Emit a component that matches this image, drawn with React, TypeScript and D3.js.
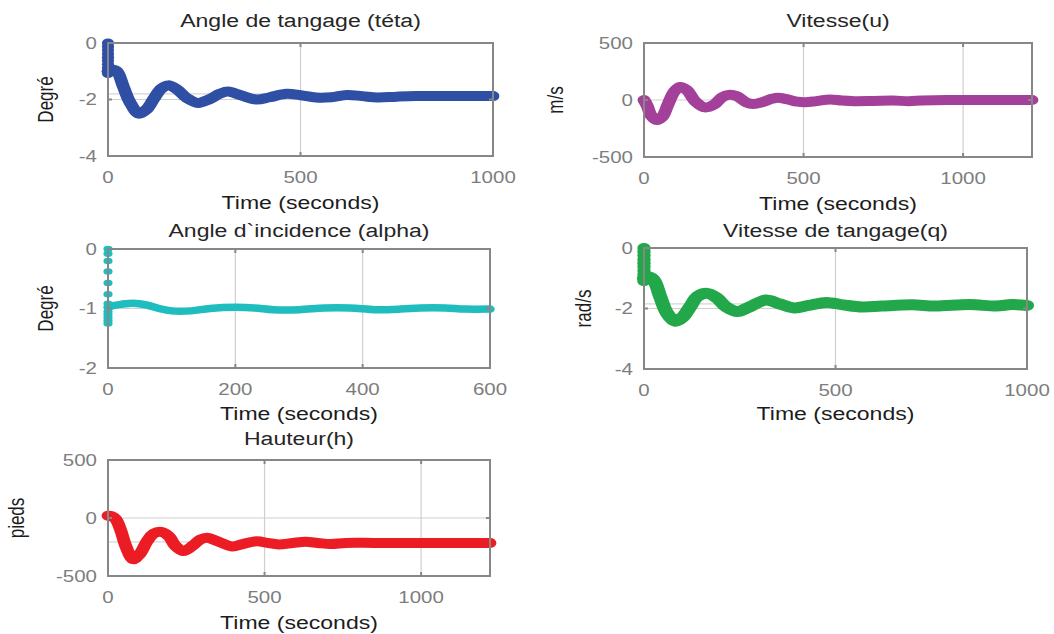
import React, { useEffect, useRef } from "react";
import * as d3 from "d3";

// pitch angle (teta), deg
const tetaStart = [0, -0.12, -0.25, -0.38, -0.5, -0.62, -0.75, -0.88, -1.0, -1.08];
const tetaT = [0, 10, 23, 40, 57, 80, 100, 120, 138, 156, 180, 205, 234, 262, 290, 312, 345, 386, 420, 464, 500, 540, 580, 620, 660, 700, 750, 800, 900, 1000];
const tetaV = [-1.0, -0.95, -1.0, -1.55, -2.1, -2.5, -2.35, -1.95, -1.62, -1.5, -1.65, -1.95, -2.12, -2.0, -1.8, -1.72, -1.85, -2.0, -1.92, -1.8, -1.85, -1.93, -1.92, -1.84, -1.88, -1.93, -1.9, -1.88, -1.88, -1.88];

// speed u, m/s
const uT = [0, 10, 22, 40, 58, 75, 95, 113, 135, 160, 191, 220, 245, 265, 290, 320, 342, 370, 400, 420, 450, 480, 505, 540, 583, 620, 660, 720, 780, 830, 870, 950, 1050, 1216];
const uV = [0, -50, -135, -175, -145, -40, 75, 115, 85, -10, -65, -40, 25, 45, 35, -20, -35, -20, 10, 20, 5, -15, -20, -10, 5, -5, -10, -8, -5, -10, -5, 0, 0, 0];

// angle of attack (alpha), deg
const alphaStart = [0, -0.08, -0.2, -0.38, -0.57, -0.76, -0.92, -0.98, -1.05, -1.1, -1.15, -1.2, -1.25];
const alphaT = [1, 8, 20, 40, 60, 80, 100, 130, 160, 200, 230, 260, 300, 340, 380, 420, 460, 490, 530, 560, 600];
const alphaV = [-0.97, -0.95, -0.93, -0.91, -0.94, -1.0, -1.04, -1.04, -1.0, -0.98, -0.99, -1.02, -1.02, -0.99, -0.99, -1.02, -1.01, -0.99, -0.99, -1.01, -1.01];

// pitch rate q, rad/s
const qStart = [0, -0.12, -0.25, -0.38, -0.5, -0.62, -0.75, -0.88, -1.0, -1.1];
const qT = [0, 10, 25, 42, 60, 82, 100, 120, 140, 165, 190, 215, 244, 275, 318, 355, 392, 430, 476, 520, 570, 620, 700, 760, 850, 920, 960, 1000];
const qV = [-1.0, -0.95, -1.05, -1.6, -2.15, -2.42, -2.3, -1.95, -1.6, -1.5, -1.65, -1.95, -2.1, -1.95, -1.72, -1.85, -1.98, -1.9, -1.8, -1.88, -1.95, -1.92, -1.88, -1.92, -1.87, -1.92, -1.87, -1.9];

// altitude h, pieds
const hT = [0, 12, 25, 40, 58, 80, 100, 125, 145, 170, 195, 215, 241, 270, 295, 317, 350, 396, 430, 476, 510, 545, 590, 631, 670, 711, 760, 850, 1000, 1220];
const hV = [20, 15, -10, -100, -250, -355, -315, -200, -135, -120, -160, -240, -285, -240, -185, -170, -200, -245, -225, -200, -215, -228, -215, -205, -215, -225, -215, -215, -215, -215];

const SX = 1.28; // the source image is stretched horizontally

const panels = [
  { title: "Angle de tangage (téta)", ylabel: "Degré", color: "#2f4fa4", t: tetaT, v: tetaV, start: tetaStart,
    x0: 108, x1: 493, y0: 43, y1: 156, xd: [0, 1000], xt: [0, 500, 1000], yd: [-4, 0], yt: [-4, -2, 0], ref: -1.8,
    titleY: 20, xlabY: 202, ylabX: 45, sw: 10 },
  { title: "Vitesse(u)", ylabel: "m/s", color: "#a3409a", t: uT, v: uV, start: [],
    x0: 644, x1: 1032, y0: 43, y1: 157, xd: [0, 1216], xt: [0, 500, 1000], yd: [-500, 500], yt: [-500, 0, 500], ref: null,
    titleY: 20, xlabY: 203, ylabX: 555, sw: 10 },
  { title: "Angle d`incidence (alpha)", ylabel: "Degré", color: "#1fbdbd", t: alphaT, v: alphaV, start: alphaStart,
    x0: 108, x1: 490, y0: 249, y1: 368, xd: [0, 600], xt: [0, 200, 400, 600], yd: [-2, 0], yt: [-2, -1, 0], ref: null,
    titleY: 230, xlabY: 413, ylabX: 45, sw: 7.5 },
  { title: "Vitesse de tangage(q)", ylabel: "rad/s", color: "#22a84a", t: qT, v: qV, start: qStart,
    x0: 644, x1: 1027, y0: 248, y1: 369, xd: [0, 1000], xt: [0, 500, 1000], yd: [-4, 0], yt: [-4, -2, 0], ref: -1.85,
    titleY: 230, xlabY: 413, ylabX: 583, sw: 11 },
  { title: "Hauteur(h)", ylabel: "pieds", color: "#ec1c24", t: hT, v: hV, start: [],
    x0: 108, x1: 490, y0: 460, y1: 576, xd: [0, 1220], xt: [0, 500, 1000], yd: [-500, 500], yt: [-500, 0, 500], ref: -205,
    titleY: 438, xlabY: 622, ylabX: 16, sw: 10 },
];

export default function App() {
  const svgRef = useRef<SVGSVGElement>(null);

  useEffect(() => {
    const svg = d3.select(svgRef.current);
    svg.selectAll("*").remove();
    const font = "'Liberation Sans', Arial, sans-serif";

    const text = (x, y, s, size, fill, rot = false, anchor = "middle") =>
      svg.append("text")
        .attr("transform", `translate(${x},${y}) scale(${SX},1)${rot ? " rotate(-90)" : ""}`)
        .attr("text-anchor", anchor)
        .attr("dominant-baseline", "central")
        .style("font-family", font)
        .style("font-size", `${size}px`)
        .style("fill", fill)
        .text(s);

    panels.forEach((p) => {
      const x = d3.scaleLinear().domain(p.xd).range([p.x0, p.x1]);
      const y = d3.scaleLinear().domain(p.yd).range([p.y1, p.y0]);
      const g = svg.append("g");

      g.append("rect").attr("x", p.x0).attr("y", p.y0).attr("width", p.x1 - p.x0).attr("height", p.y1 - p.y0).attr("fill", "#fff");

      // grid
      p.xt.forEach((t) => {
        g.append("line").attr("x1", x(t)).attr("x2", x(t)).attr("y1", p.y0).attr("y2", p.y1)
          .attr("stroke", "#cfcfcf").attr("stroke-width", 1.2);
      });
      p.yt.forEach((t) => {
        g.append("line").attr("x1", p.x0).attr("x2", p.x1).attr("y1", y(t)).attr("y2", y(t))
          .attr("stroke", "#cfcfcf").attr("stroke-width", 1.2);
      });
      if (p.ref !== null) {
        g.append("line").attr("x1", p.x0).attr("x2", p.x1).attr("y1", y(p.ref)).attr("y2", y(p.ref))
          .attr("stroke", "#d6d6d6").attr("stroke-width", 1.2);
      }

      // data, drawn in an x-compressed frame so the pen is wider than tall (like the stretched markers)
      const pts = p.t.map((t, i) => [t, p.v[i]]);
      const line = d3.line().x((d) => x(d[0]) / SX).y((d) => y(d[1])).curve(d3.curveCatmullRom);
      g.append("path").attr("d", line(pts)).attr("transform", `scale(${SX},1)`)
        .attr("fill", "none").attr("stroke", p.color)
        .attr("stroke-width", p.sw).attr("stroke-linecap", "round").attr("stroke-linejoin", "round");
      p.start.forEach((v) => {
        g.append("ellipse").attr("cx", x(0)).attr("cy", y(v)).attr("rx", (p.sw / 2) * SX * 0.95).attr("ry", p.sw / 2 - 0.5)
          .attr("fill", p.color);
      });

      // box
      g.append("rect").attr("x", p.x0).attr("y", p.y0).attr("width", p.x1 - p.x0).attr("height", p.y1 - p.y0)
        .attr("fill", "none").attr("stroke", "#878787").attr("stroke-width", 2);
      p.xt.forEach((t) => {
        g.append("line").attr("x1", x(t)).attr("x2", x(t)).attr("y1", p.y1).attr("y2", p.y1 - 4).attr("stroke", "#878787").attr("stroke-width", 2);
        g.append("line").attr("x1", x(t)).attr("x2", x(t)).attr("y1", p.y0).attr("y2", p.y0 + 4).attr("stroke", "#878787").attr("stroke-width", 2);
      });
      p.yt.forEach((t) => {
        g.append("line").attr("x1", p.x0).attr("x2", p.x0 + 4).attr("y1", y(t)).attr("y2", y(t)).attr("stroke", "#878787").attr("stroke-width", 2);
        g.append("line").attr("x1", p.x1).attr("x2", p.x1 - 4).attr("y1", y(t)).attr("y2", y(t)).attr("stroke", "#878787").attr("stroke-width", 2);
      });

      // tick labels
      p.xt.forEach((t) => text(x(t), p.y1 + 21, String(t), 16, "#7d7d7d"));
      p.yt.forEach((t) => text(p.x0 - 11, y(t), String(t), 16, "#7d7d7d", false, "end"));

      text((p.x0 + p.x1) / 2, p.titleY, p.title, 18, "#262626");
      text((p.x0 + p.x1) / 2, p.xlabY, "Time (seconds)", 18, "#1c1c1c");
      text(p.ylabX, (p.y0 + p.y1) / 2, p.ylabel, 17, "#1c1c1c", true);
    });
  }, []);

  return (
    <svg ref={svgRef} width={1054} height={634}
      style={{ position: "absolute", left: 0, top: 0, background: "#fff" }} />
  );
}
